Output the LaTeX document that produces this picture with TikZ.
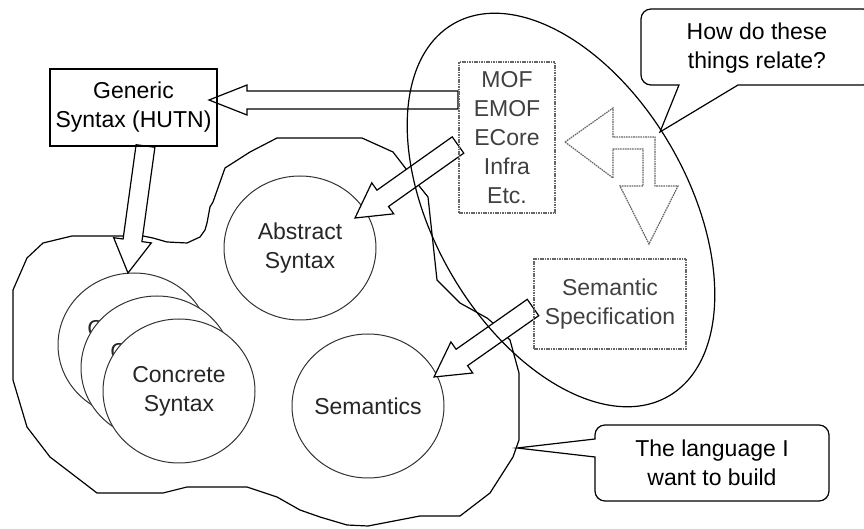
\documentclass[tikz,border=0pt]{standalone}
\usepackage{fontspec}
\setmainfont{Liberation Sans}
\usetikzlibrary{calc,shapes.geometric}
\newcommand\blockarrow[5]{%
  \coordinate (ba-h) at ($(#2)!#5!(#1)$);
  \draw[barrow] ($(#1)!#3!90:(#2)$) -- ($(ba-h)!#3!90:(#2)$) -- ($(ba-h)!#4!90:(#2)$) -- (#2)
     -- ($(ba-h)!#4!-90:(#2)$) -- ($(ba-h)!#3!-90:(#2)$) -- ($(#1)!#3!-90:(#2)$) -- cycle;}
\begin{document}
\begin{tikzpicture}[x=0.5pt,y=-0.5pt,
  every node/.style={font=\fontsize{11.5pt}{14.5pt}\selectfont, align=center, inner sep=0pt},
  outline/.style={draw=black, line width=0.6pt},
  barrow/.style={draw=black, line width=0.6pt, fill=white},
  bubble/.style={ellipse, draw=black!80, line width=0.5pt, fill=white, text=black!85,
                 minimum width=76pt, minimum height=72pt},
  grayline/.style={draw=black!60, dash pattern=on 0.8pt off 0.4pt, line width=0.6pt},
  specbox/.style={rectangle, grayline, text=black!75},
  gbox/.style={rectangle, draw=black, line width=0.6pt},
  callout/.style={draw=black, line width=0.6pt, fill=white}]
\useasboundingbox (0,0) rectangle (864,529);
\clip (0,0) rectangle (864,529);

% the language (blob)
\draw[outline] (43,243) -- (72,236) -- (143,236) -- (153,238) -- (167,242) -- (187,243) -- (200,237)
  -- (205,230) -- (207,223) -- (210,207) -- (213,202) -- (225,168) -- (250,152) -- (277,138)
  -- (362,138) -- (393,152) -- (420,187) -- (428,197) -- (437,280) -- (460,303) -- (487,318)
  -- (493,323) -- (510,340) -- (519,373) -- (519,440) -- (513,457) -- (490,493) -- (460,516)
  -- (420,516) -- (368,526) -- (347,525) -- (320,517) -- (300,510) -- (277,497) -- (247,487)
  -- (187,487) -- (163,493) -- (97,493) -- (67,470) -- (50,457) -- (27,427) -- (13,380)
  -- (13,290) -- (27,258) -- cycle;

% circles
\node[bubble] (cs3) at (134,345) {Concrete\\Syntax};
\node[bubble] (cs2) at (157,368) {Concrete\\Syntax};
\node[bubble] (cs1) at (179,391) {Concrete\\Syntax};
\node[bubble] (abs) at (300,248) {Abstract\\Syntax};
\node[bubble] (sem) at (368,406) {Semantics};

% block arrows
\coordinate (a1s) at (458,100); \coordinate (a1t) at (209,100);
\blockarrow{a1s}{a1t}{4.5pt}{7.5pt}{19pt}
\coordinate (a2s) at (458,145); \coordinate (a2t) at (355,218);
\blockarrow{a2s}{a2t}{5pt}{9.5pt}{17pt}
\coordinate (a3s) at (533,307.5); \coordinate (a3t) at (434,377);
\blockarrow{a3s}{a3t}{5pt}{9.5pt}{17pt}
\coordinate (a4s) at (145.5,146); \coordinate (a4t) at (128,273);
\blockarrow{a4s}{a4t}{4.75pt}{9.5pt}{16.5pt}

% boxes
\node[gbox, minimum width=83.5pt, minimum height=38.5pt] (gen) at (133.5,107.5) {Generic\\Syntax (HUTN)};
\node[specbox, minimum width=48pt, minimum height=75.5pt] (mof) at (507,137.5) {MOF\\EMOF\\ECore\\Infra\\Etc.};
\node[specbox, minimum width=76pt, minimum height=45pt] (sspec) at (610,304) {Semantic\\Specification};

% bent double arrow
\draw[grayline] (565,142) -- (613,108) -- (613,137) -- (655,137)
  -- (655,186) -- (678,186) -- (649,244) -- (620,186) -- (643,186) -- (643,149) -- (613,149)
  -- (613,178) -- cycle;

% big ellipse
\draw[outline, rotate around={30:(561,210)}] (561,210) ellipse [x radius=127, y radius=215];

% callouts
\coordinate (tipQ) at (660,132);
\draw[callout] (tipQ) -- (679,85) [rounded corners=5pt] -- (641,85) -- (641,9) -- (873,9) -- (873,85)
  [sharp corners] -- (738,85) -- cycle;
\node (q) at (757,48) {How do these\\things relate?};

\coordinate (tipL) at (517,448);
\draw[callout] (tipL) -- (595,457) [rounded corners=5pt] -- (595,501) -- (829,501) -- (829,425)
  -- (595,425) [sharp corners] -- (595,439) -- cycle;
\node (lang) at (712,463) {The language I\\want to build};
\end{tikzpicture}
\end{document}
